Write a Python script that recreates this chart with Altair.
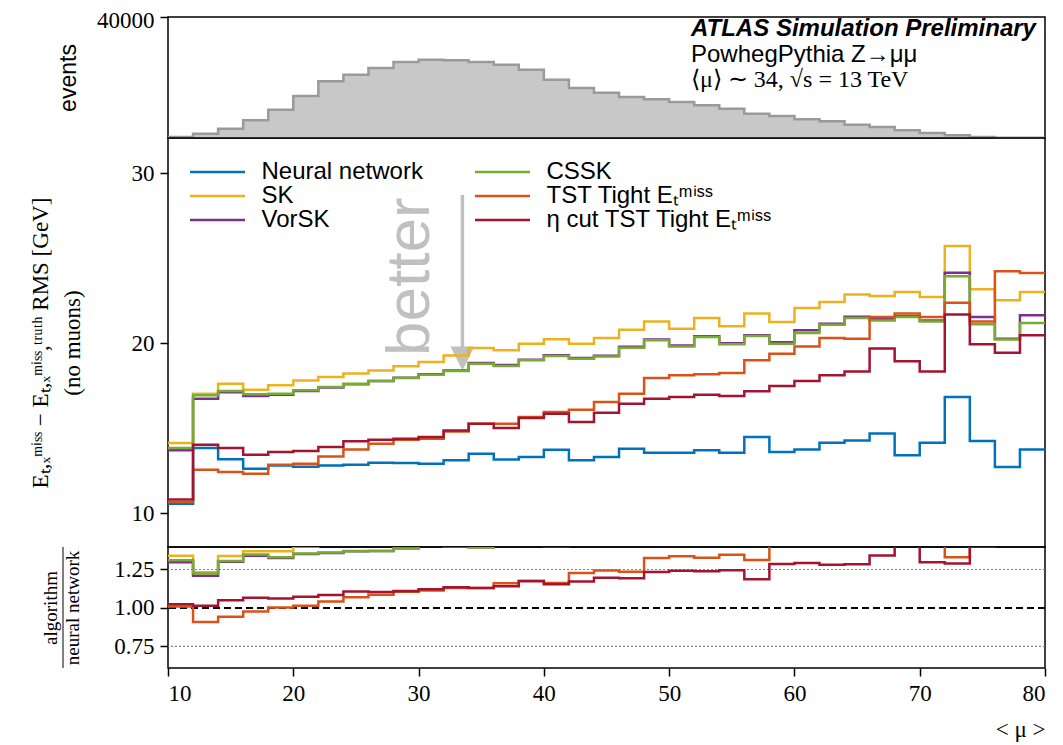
import altair as alt
import pandas as pd

# ---------------- data ----------------
mu_edges = [10, 12, 14, 16, 18, 20, 22, 24, 26, 28, 30, 32, 34, 36, 38, 40, 42, 44,
            46, 48, 50, 52, 54, 56, 58, 60, 62, 64, 66, 68, 70, 72, 74, 76, 78]
mu_last = 80

events = [330, 1420, 3080, 5840, 9360, 13880, 18740, 20930, 23140, 25120, 25890, 25680,
          25120, 24240, 22580, 19270, 16530, 14980, 13550, 12790, 11900, 10810, 9690,
          8030, 7270, 6180, 5520, 4400, 3640, 2550, 1650, 890, 330, 120, 50]

nn = [10.55, 13.82, 13.16, 12.60, 12.80, 12.72, 12.80, 12.84, 12.96, 12.94, 12.90, 13.10,
      13.49, 13.14, 13.29, 13.72, 13.10, 13.29, 13.78, 13.55, 13.55, 13.69, 13.55, 14.47,
      13.59, 13.74, 14.14, 14.27, 14.67, 13.39, 14.14, 16.82, 14.24, 12.70, 13.74]
sk = [14.12, 17.02, 17.60, 17.25, 17.51, 17.80, 18.00, 18.20, 18.39, 18.63, 18.88, 19.27,
      19.71, 19.57, 19.96, 20.22, 19.96, 20.29, 20.78, 21.27, 20.84, 21.47, 20.98, 21.73,
      21.24, 22.06, 22.41, 22.86, 22.76, 23.00, 22.71, 25.71, 23.16, 22.51, 23.00]
vorsk = [13.69, 16.72, 17.10, 16.88, 16.95, 17.18, 17.38, 17.58, 17.76, 17.96, 18.16, 18.38,
         18.82, 18.70, 19.02, 19.28, 19.12, 19.25, 19.78, 20.20, 19.86, 20.40, 19.98, 20.45,
         20.05, 20.75, 21.14, 21.55, 21.40, 21.58, 21.33, 24.14, 21.53, 20.25, 21.63]
cssk = [13.82, 16.92, 17.18, 16.98, 17.02, 17.22, 17.41, 17.60, 17.76, 17.94, 18.14, 18.35,
        18.78, 18.65, 18.98, 19.24, 19.08, 19.20, 19.72, 20.16, 19.80, 20.35, 19.92, 20.41,
        19.96, 20.59, 21.08, 21.47, 21.33, 21.53, 21.27, 23.92, 21.10, 20.20, 21.18]
tst = [10.65, 12.55, 12.41, 12.31, 12.84, 12.90, 13.33, 13.74, 14.08, 14.31, 14.37, 14.80,
       15.25, 15.25, 15.65, 15.94, 16.08, 16.53, 17.02, 17.94, 18.10, 18.16, 18.24, 18.98,
       19.37, 19.80, 20.29, 20.25, 21.53, 21.73, 21.53, 22.37, 21.27, 24.22, 24.12]
eta_tst = [10.80, 14.02, 13.82, 13.43, 13.59, 13.65, 13.88, 14.22, 14.31, 14.37, 14.47, 14.86,
           15.25, 15.00, 15.59, 15.84, 15.35, 15.90, 16.43, 16.72, 16.82, 16.96, 16.88, 17.16,
           17.47, 17.76, 18.10, 18.33, 19.67, 18.92, 18.33, 21.67, 19.92, 19.43, 20.45]

NN = "Neural network"
SK = "SK"
VOR = "VorSK"
CSSK = "CSSK"
TST = "TST Tight Eₜᵐⁱˢˢ"
ETA = "η cut TST Tight Eₜᵐⁱˢˢ"

series = [(NN, nn), (SK, sk), (VOR, vorsk), (CSSK, cssk), (TST, tst), (ETA, eta_tst)]
colors = {NN: "#0072BD", SK: "#EDB120", VOR: "#7E2F8E", CSSK: "#77AC30",
          TST: "#D95319", ETA: "#A2142F"}
legend_order = [NN, SK, VOR, CSSK, TST, ETA]   # legend fills column by column

# ---------------- tables ----------------
xs = mu_edges + [mu_last]

hist_df = pd.DataFrame({"mu": xs, "events": events + [events[-1]]})

rows, ratio_rows = [], []
nn_ext = nn + [nn[-1]]
for name, vals in series:
    ext = vals + [vals[-1]]
    for i, (x, v) in enumerate(zip(xs, ext)):
        rows.append({"algo": name, "mu": x, "rms": v, "k": i})
        if name != NN:
            ratio_rows.append({"algo": name, "mu": x, "ratio": v / nn_ext[i], "k": i})
series_df = pd.DataFrame(rows)
ratio_df = pd.DataFrame(ratio_rows)

W = 877
H_TOP, H_MID, H_BOT = 121, 409, 121

x_scale = alt.Scale(domain=[10, 80], nice=False, zero=False)
color_scale = alt.Scale(domain=legend_order, range=[colors[k] for k in legend_order])

SERIF = "Liberation Serif"
SANS = "Liberation Sans"

axis_common = dict(grid=False, domain=False, ticks=True, tickSize=8, tickWidth=1.5,
                   tickColor="black", labelFont=SERIF, labelFontSize=23,
                   labelColor="black", labelPadding=6, titleColor="black",
                   titleFontWeight="normal")

# ---------------- top panel: events ----------------
top_y = alt.Y("events:Q", scale=alt.Scale(domain=[0, 40000], nice=False, zero=True),
              axis=alt.Axis(values=[40000], format="d", title="events", titleFont=SANS,
                            titleFontSize=23, titleAngle=270, titleX=-88, titleY=H_TOP / 2,
                            titleBaseline="bottom", titleAlign="center", labelOffset=3,
                            **axis_common))
top_x = alt.X("mu:Q", scale=x_scale, axis=None)

hist_area = alt.Chart(hist_df).mark_area(interpolate="step-after", color="#c8c8c8").encode(
    x=top_x, y=top_y)
hist_line = alt.Chart(hist_df).mark_line(interpolate="step-after", color="#9a9a9a",
                                          strokeWidth=2.5).encode(x=top_x, y=top_y)

txt1 = alt.Chart(pd.DataFrame({"t": ["ATLAS Simulation Preliminary"]})).mark_text(
    font=SANS, fontSize=24, fontWeight="bold", fontStyle="italic", align="left",
    baseline="alphabetic", color="black").encode(text="t:N", x=alt.value(523), y=alt.value(19))
txt2 = alt.Chart(pd.DataFrame({"t": ["PowhegPythia Z→μμ"]})).mark_text(
    font=SANS, fontSize=24, align="left", baseline="alphabetic", color="black").encode(
    text="t:N", x=alt.value(523), y=alt.value(45))
txt3 = alt.Chart(pd.DataFrame({"t": ["⟨μ⟩ ∼ 34, √s = 13 TeV"]})).mark_text(
    font=SERIF, fontSize=24, align="left", baseline="alphabetic", color="black").encode(
    text="t:N", x=alt.value(523), y=alt.value(70))

top = alt.layer(hist_area, hist_line, txt1, txt2, txt3).properties(width=W, height=H_TOP)

# ---------------- middle panel: RMS ----------------
mid_title = ["Eₜ,ₓᵐⁱˢˢ − Eₜ,ₓᵐⁱˢˢ,ᵗʳᵘᵗʰ RMS [GeV]", "(no muons)"]
mid_y_scale = alt.Scale(domain=[8, 32.06], nice=False, zero=False)
mid_y = alt.Y("rms:Q", scale=mid_y_scale,
              axis=alt.Axis(values=[10, 20, 30], title=mid_title, titleFont=SERIF,
                            titleFontSize=23, titleLineHeight=32, titleAngle=270,
                            titleX=-116, titleY=H_MID / 2, titleBaseline="bottom",
                            titleAlign="center", **axis_common))
mid_x = alt.X("mu:Q", scale=x_scale, axis=None)

mid_lines = alt.Chart(series_df).mark_line(interpolate="step-after", strokeWidth=2.5).encode(
    x=mid_x, y=mid_y,
    color=alt.Color("algo:N", scale=color_scale,
                    legend=alt.Legend(orient="none", legendX=22, legendY=22, columns=2,
                                      columnPadding=47, rowPadding=0, padding=0,
                                      title=None, symbolType="M-5,0H5", symbolSize=121,
                                      symbolStrokeWidth=2.5, symbolOffset=15.5,
                                      labelOffset=32, labelFont=SANS, labelFontSize=24,
                                      labelColor="black", labelLimit=400)),
    order="k:Q")

arrow_df = pd.DataFrame({"mu": [33.5], "rms": [28.7], "rms2": [19.76]})
head_df = pd.DataFrame({"mu": [33.5], "rms": [19.09]})
better_df = pd.DataFrame({"mu": [29.31], "rms": [23.9], "t": ["better"]})

arrow_line = alt.Chart(arrow_df).mark_rule(color="#c0c0c0", strokeWidth=3.5).encode(
    x=mid_x, y=alt.Y("rms:Q", scale=mid_y_scale), y2="rms2:Q")
arrow_head = alt.Chart(head_df).mark_point(shape="M-1,-1L1,-1L0,1Z", size=576, filled=True,
                                           color="#c0c0c0", opacity=1).encode(
    x=mid_x, y=alt.Y("rms:Q", scale=mid_y_scale))
better_txt = alt.Chart(better_df).mark_text(font=SANS, fontSize=62, angle=270, align="center",
                                            baseline="middle", color="#c0c0c0").encode(
    x=mid_x, y=alt.Y("rms:Q", scale=mid_y_scale), text="t:N")

mid = alt.layer(arrow_line, arrow_head, better_txt, mid_lines).properties(width=W, height=H_MID)

# ---------------- bottom panel: ratio ----------------
bot_y_scale = alt.Scale(domain=[0.61, 1.396], nice=False, zero=False)
bot_y = alt.Y("ratio:Q", scale=bot_y_scale,
              axis=alt.Axis(values=[0.75, 1.0, 1.25], format=".2f",
                            title=["algorithm", "neural network"], titleFont=SERIF,
                            titleFontSize=19, titleLineHeight=22, titleAngle=270,
                            titleX=-108, titleY=H_BOT / 2, titleBaseline="bottom",
                            titleAlign="center", **axis_common))
bot_x = alt.X("mu:Q", scale=x_scale,
              axis=alt.Axis(values=[10, 20, 30, 40, 50, 60, 70, 80], title="< μ >",
                            titleFont=SERIF, titleFontSize=23, titleX=W, titleY=50,
                            titleAlign="right", titleBaseline="top", labelAngle=0,
                            **axis_common))

ratio_lines = alt.Chart(ratio_df).mark_line(interpolate="step-after", strokeWidth=2.5,
                                            clip=True).encode(
    x=bot_x, y=bot_y, color=alt.Color("algo:N", scale=color_scale, legend=None), order="k:Q")

ref_df = pd.DataFrame({"ratio": [0.75, 1.25]})
dotted = alt.Chart(ref_df).mark_rule(color="#808080", strokeWidth=1.2, strokeDash=[2, 2]).encode(
    y=alt.Y("ratio:Q", scale=bot_y_scale))
one_df = pd.DataFrame({"ratio": [1.0]})
dashed = alt.Chart(one_df).mark_rule(color="black", strokeWidth=2, strokeDash=[7, 4]).encode(
    y=alt.Y("ratio:Q", scale=bot_y_scale))
frac_bar = alt.Chart(one_df).mark_rule(color="black", strokeWidth=1).encode(
    x=alt.value(-105), y=alt.value(0), y2=alt.value(121))

bot = alt.layer(dotted, dashed, ratio_lines, frac_bar).properties(width=W, height=H_BOT)

chart = (
    alt.vconcat(top, mid, bot, spacing=0, bounds="flush")
    .resolve_scale(color="independent")
    .properties(padding={"left": 20, "top": 0, "right": 0, "bottom": 0})
    .configure_view(stroke="black", strokeWidth=1.5)
)

chart.save("out.html", embed_options={"renderer": "svg", "actions": False})
